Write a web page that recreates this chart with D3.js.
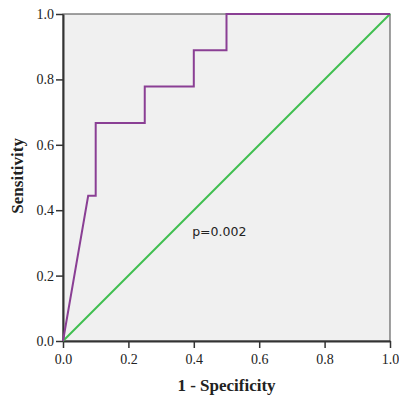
<!DOCTYPE html>
<html>
<head>
  <script src="https://d3js.org/d3.v7.min.js"></script>
  <style>
    body { margin: 0; background: #ffffff; }
    text { font-family: 'Liberation Serif', serif; }
  </style>
</head>
<body>
  <div id="chart"></div>
  <script>
    // ROC curve points (1 - specificity, sensitivity)
    var fpr = [0, 0.077, 0.1, 0.1, 0.25, 0.25, 0.4, 0.4, 0.5, 0.5, 1.0];
    var tpr = [0, 0.444, 0.444, 0.667, 0.667, 0.778, 0.778, 0.889, 0.889, 1.0, 1.0];
    var refLine = [0, 1];
    var ticks = [0, 0.2, 0.4, 0.6, 0.8, 1.0];
    var pLabel = "p=0.002";

    var width = 399, height = 396;
    var margin = { top: 14, right: 9, bottom: 55, left: 63 };
    var w = width - margin.left - margin.right;
    var h = height - margin.top - margin.bottom;

    var svg = d3.select("#chart").append("svg")
      .attr("width", width)
      .attr("height", height);

    var g = svg.append("g")
      .attr("transform", "translate(" + margin.left + "," + margin.top + ")");

    var x = d3.scaleLinear().domain([0, 1]).range([0, w]);
    var y = d3.scaleLinear().domain([0, 1]).range([h, 0]);

    g.append("rect")
      .attr("width", w)
      .attr("height", h)
      .style("fill", "#f0f0f0")
      .style("stroke", "#444")
      .style("stroke-width", 1);

    // axes
    var xAxis = g.append("g")
      .attr("transform", "translate(0," + h + ")")
      .call(d3.axisBottom(x).tickValues(ticks).tickFormat(d3.format(".1f")).tickSize(7).tickSizeOuter(0));
    var yAxis = g.append("g")
      .call(d3.axisLeft(y).tickValues(ticks).tickFormat(d3.format(".1f")).tickSize(7).tickSizeOuter(0));

    [xAxis, yAxis].forEach(function (a) {
      a.attr("font-family", "Liberation Serif").attr("font-size", 14);
      a.select(".domain").style("stroke", "#333").style("stroke-width", 2);
      a.selectAll(".tick line").style("stroke", "#333").style("stroke-width", 1.5);
      a.selectAll(".tick text")
        .attr("font-family", "Liberation Serif")
        .style("font-family", "Liberation Serif")
        .style("font-size", "14px")
        .style("fill", "#222");
    });
    xAxis.selectAll(".tick text").attr("y", 13);
    yAxis.selectAll(".tick text").attr("x", -9);

    // reference diagonal
    g.append("line")
      .attr("x1", x(refLine[0])).attr("y1", y(refLine[0]))
      .attr("x2", x(refLine[1])).attr("y2", y(refLine[1]))
      .style("stroke", "#3fbf4f")
      .style("stroke-width", 2);

    // ROC curve
    var line = d3.line()
      .x(function (d, i) { return x(fpr[i]); })
      .y(function (d, i) { return y(tpr[i]); });

    g.append("path")
      .attr("d", line(fpr))
      .style("fill", "none")
      .style("stroke", "#8a3f94")
      .style("stroke-width", 2);

    g.append("text")
      .attr("x", x(0.395))
      .attr("y", y(0.322))
      .style("font-family", "'DejaVu Sans', sans-serif")
      .style("font-size", "12.5px")
      .style("fill", "#222")
      .text(pLabel);

    // axis titles
    svg.append("text")
      .attr("x", margin.left + w / 2)
      .attr("y", 391)
      .attr("text-anchor", "middle")
      .style("font-size", "17px")
      .style("font-weight", "bold")
      .style("fill", "#222")
      .text("1 - Specificity");

    svg.append("text")
      .attr("transform", "translate(23," + (margin.top + h * 0.495) + ") rotate(-90)")
      .attr("text-anchor", "middle")
      .style("font-size", "17px")
      .style("font-weight", "bold")
      .style("fill", "#222")
      .text("Sensitivity");
  </script>
</body>
</html>
